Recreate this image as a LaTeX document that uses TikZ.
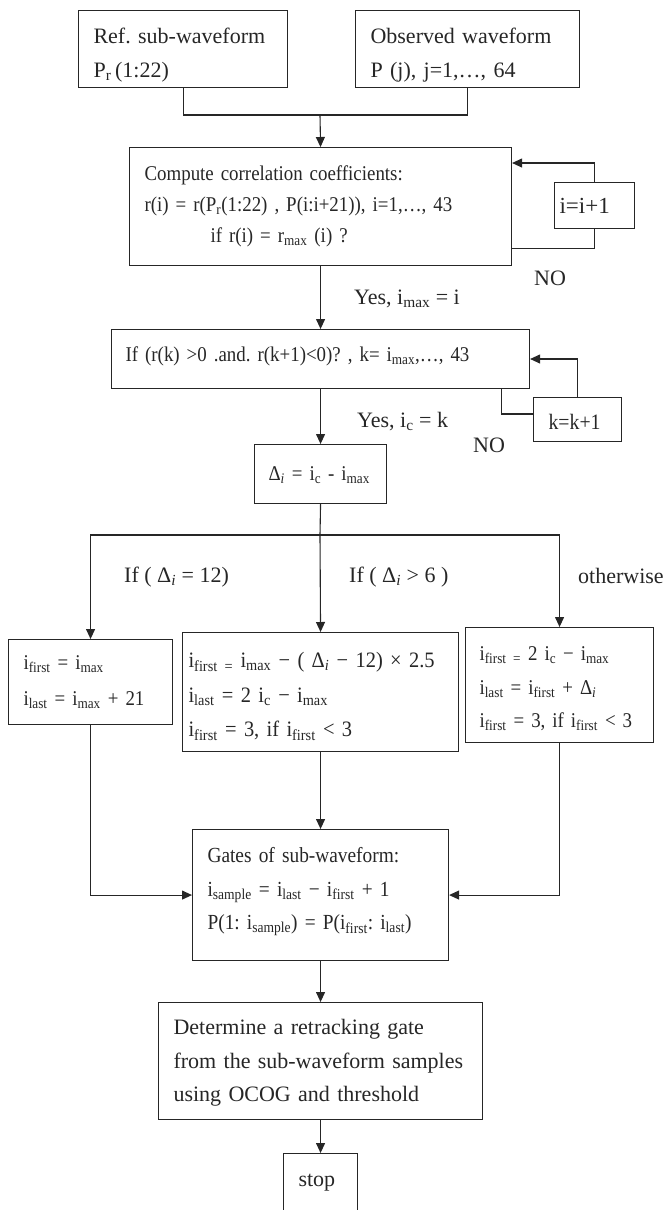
\documentclass[tikz,border=0pt]{standalone}
\usepackage{fontspec}
\setmainfont{Liberation Serif}
\newfontfamily\narrowserif{Liberation Serif}[FakeStretch=0.9]
\newfontfamily\semiserif{Liberation Serif}[FakeStretch=0.93]
\usepackage{tikz}
\usetikzlibrary{arrows.meta}
\definecolor{flowInk}{HTML}{262626}
\newcommand{\isub}[1]{i\textsubscript{#1}}
\newcommand{\dlti}{Δ\textsubscript{\textit{i}}}
\frenchspacing

\begin{document}
\begin{tikzpicture}[x=1pt, y=-1pt,
    flowbox/.style={draw=flowInk, line width=1.1pt, anchor=north west,
      inner xsep=15pt, inner ysep=0pt, align=left, text=flowInk,
      font=\fontsize{22}{33.5}\selectfont},
    flowsmall/.style={font=\narrowserif\fontsize{21}{33.5}\selectfont},
    flowtext/.style={anchor=base west, inner sep=0pt, text=flowInk,
      font=\fontsize{22}{26}\selectfont},
    flowline/.style={draw=flowInk, line width=1.1pt},
    flowarrow/.style={flowline, -{Triangle[length=10pt,width=9pt]}}]
    \useasboundingbox (0,0) rectangle (665,1210);
    \clip (0,0) rectangle (665,1210);
    % inputs
    \node[flowbox, text width=179pt, text height=33pt, text depth=44pt,
      font=\fontsize{22}{34}\selectfont] (ref) at (78,10)
      {Ref. sub-waveform\\P\textsubscript{r}\,(1:22)};
    \node[flowbox, text width=194pt, text height=33pt, text depth=44pt,
      font=\fontsize{22}{34}\selectfont] (obs) at (355,10)
      {Observed waveform\\P (j), j=1,…, 64};
    \coordinate (join) at (320,115);
    \draw[flowline] (ref.south) |- (join) -| (obs.south);
    % correlation loop
    \node[flowbox, text width=352pt, text height=33pt, text depth=85pt,
      font=\narrowserif\fontsize{21}{31}\selectfont] (corr) at (129,147)
      {Compute correlation coefficients:\\
       r(i) = r(P\textsubscript{r}(1:22) , P(i:i+21)), i=1,…, 43\\
       \hspace*{66pt}if r(i) = r\textsubscript{max} (i) ?};
    \draw[flowarrow] (join) -- (corr.north);
    \node[flowbox, inner xsep=5pt, text width=70pt, text height=31pt,
      text depth=15pt, font=\fontsize{23}{26}\selectfont] (incI) at (554,182)
      {i=i+1};
    \draw[flowline] (corr.south east) ++(0,-18) coordinate (corrOut);
    \draw[flowline] (incI.south) |- (corrOut);
    \draw[flowarrow] (incI.north) |- ([yshift=-16pt]corr.north east);
    \node[flowtext] (noI) at (534,285) {NO};
    \node[flowtext] (yesI) at (354,304) {Yes, \isub{max} = i};
    % zero crossing loop
    \node[flowbox, flowsmall, inner xsep=14pt, text width=390pt,
      text height=32pt, text depth=27pt] (cross) at (111,329)
      {If (r(k) >0 .and. r(k+1)<0)? , k= \isub{max},…, 43};
    \draw[flowarrow] (corr.south) -- (cross.north);
    \node[flowbox, text width=58pt, text height=32pt, text depth=12pt,
      font=\narrowserif\fontsize{22}{26}\selectfont] (incK) at (533,397)
      {k=k+1};
    \draw[flowline] ([xshift=-29pt]cross.south east)
      |- ([yshift=-17pt]incK.north west);
    \draw[flowarrow] (incK.north) |- ([yshift=-30pt]cross.north east);
    \node[flowtext] (yesK) at (357,427) {Yes, \isub{c} = k};
    \node[flowtext] (noK) at (473,452) {NO};
    % width of the leading edge
    \node[flowbox, flowsmall, inner xsep=14pt, text width=104pt,
      text height=36pt, text depth=23pt] (delta) at (254,444)
      {\dlti{} = \isub{c} - \isub{max}};
    \draw[flowarrow] (cross.south) -- (delta.north);
    % three cases
    \coordinate (split) at (320,535);
    \node[flowbox, text width=134pt, text height=30pt, text depth=55pt,
      font=\narrowserif\fontsize{21}{36}\selectfont] (caseA) at (8,639)
      {\isub{first} = \isub{max}\\\isub{last} = \isub{max} + 21};
    \node[flowbox, inner xsep=6pt, text width=264pt, text height=35pt,
      text depth=84pt, font=\semiserif\fontsize{22}{34.5}\selectfont]
      (caseB) at (182,632)
      {\isub{first =} \isub{max} − ( \dlti{} − 12) × 2.5\\
       \isub{last} = 2 \isub{c} − \isub{max}\\
       \isub{first} = 3, if \isub{first} < 3};
    \node[flowbox, flowsmall, inner xsep=14pt, text width=160pt,
      text height=33pt, text depth=82pt] (caseC) at (465,627)
      {\isub{first =} 2 \isub{c} − \isub{max}\\
       \isub{last} = \isub{first} + \dlti\\
       \isub{first} = 3, if \isub{first} < 3};
    \draw[flowline] (delta.south) -- (split);
    \draw[flowarrow] (split) -| (caseA.north);
    \draw[flowarrow] (split) -| (caseC.north);
    \draw[flowarrow] (split) -- (caseB.north);
    \node[flowtext] (ifA) at (124,582) {If ( \dlti{} = 12)};
    \node[flowtext] (ifB) at (349,582) {If ( \dlti{} > 6 )};
    \node[flowtext] (ifC) at (578,583) {otherwise};
    % sub-waveform and retracking
    \node[flowbox, text width=226pt, text height=33pt, text depth=98pt,
      font=\narrowserif\fontsize{21.5}{33.5}\selectfont] (gates) at (192,829)
      {Gates of sub-waveform:\\
       \isub{sample} = \isub{last} − \isub{first} + 1\\
       P(1: \isub{sample}) = P(\isub{first}: \isub{last})};
    \draw[flowarrow] (caseB.south) -- (gates.north);
    \draw[flowarrow] (caseA.south) |- (gates.west);
    \draw[flowarrow] (caseC.south) |- (gates.east);
    \node[flowbox, text width=294pt, text height=32pt, text depth=85pt]
      (retrack) at (158,1002)
      {Determine a retracking gate\\
       from the sub-waveform samples\\
       using OCOG and threshold};
    \draw[flowarrow] (gates.south) -- (retrack.north);
    \node[flowbox, text width=44pt, text height=33pt, text depth=80pt]
      (stop) at (283,1153) {stop};
    \draw[flowarrow] (retrack.south) -- (stop.north);
\end{tikzpicture}
\end{document}
